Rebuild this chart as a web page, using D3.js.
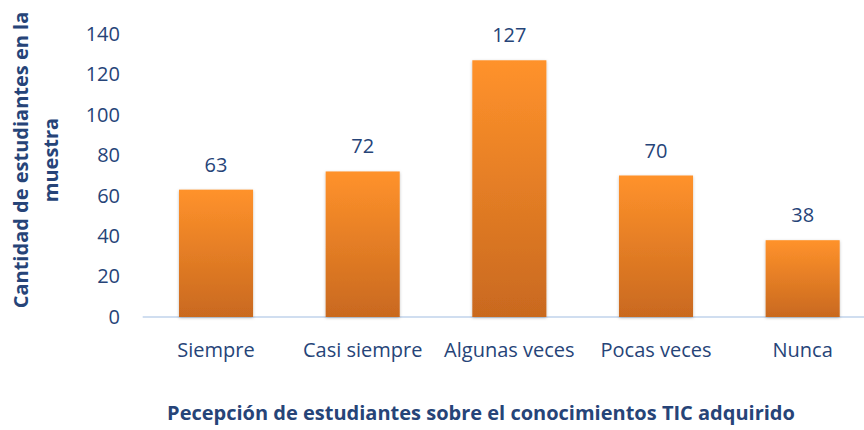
<!DOCTYPE html>
<html>
<head>
<meta charset="utf-8">
<script src="https://cdn.jsdelivr.net/npm/d3@7"></script>
<style>
  body { margin: 0; background: #fff; }
  text { font-family: "Open Sans", sans-serif; fill: #264478; }
</style>
</head>
<body>
<svg id="chart" width="864" height="430"></svg>
<script>
const categories = ["Siempre", "Casi siempre", "Algunas veces", "Pocas veces", "Nunca"];
const values = [63, 72, 127, 70, 38];
const yTicks = [0, 20, 40, 60, 80, 100, 120, 140];
const yTitle = ["Cantidad de estudiantes en la", "muestra"];
const xTitle = "Pecepción de estudiantes sobre el conocimientos TIC adquirido";

const svg = d3.select("#chart");
const x0 = 142.7, x1 = 876, yBase = 317, yTop = 34;

const x = d3.scaleBand().domain(categories).range([x0, x1]).paddingInner(0.495).paddingOuter(0.2475);
const y = d3.scaleLinear().domain([0, 140]).range([yBase, yTop]);

const defs = svg.append("defs");
const grad = defs.append("linearGradient").attr("id", "barGrad")
  .attr("x1", 0).attr("y1", 0).attr("x2", 0).attr("y2", 1);
grad.append("stop").attr("offset", "0%").attr("stop-color", "#ff922b");
grad.append("stop").attr("offset", "100%").attr("stop-color", "#c9691f");

const shadow = defs.append("filter").attr("id", "shadow").attr("x", "-20%").attr("y", "-10%").attr("width", "140%").attr("height", "120%");
shadow.append("feDropShadow").attr("dx", 0).attr("dy", 1).attr("stdDeviation", 1.5).attr("flood-color", "#000").attr("flood-opacity", 0.25);

// baseline
svg.append("line")
  .attr("x1", x0).attr("x2", 864)
  .attr("y1", yBase).attr("y2", yBase)
  .attr("stroke", "#d0def0").attr("stroke-width", 2);

// y axis labels (no line)
const yAxis = d3.axisLeft(y).tickValues(yTicks).tickSize(0).tickPadding(0);
const ya = svg.append("g").attr("transform", "translate(120,0)").call(yAxis);
ya.select(".domain").remove();
ya.selectAll("text").style("font-size", "20px").attr("fill", "#264478").attr("font-family", "'Open Sans', sans-serif");

// bars
svg.append("g").selectAll("rect")
  .data(values)
  .join("rect")
  .attr("x", (d, i) => x(categories[i]))
  .attr("y", d => y(d))
  .attr("width", x.bandwidth())
  .attr("height", d => yBase - y(d))
  .attr("fill", "url(#barGrad)")
  .attr("filter", "url(#shadow)");

// value labels
svg.append("g").selectAll("text")
  .data(values)
  .join("text")
  .attr("x", (d, i) => x(categories[i]) + x.bandwidth() / 2)
  .attr("y", d => y(d) - 18)
  .attr("text-anchor", "middle")
  .style("font-size", "20px")
  .text(d => d);

// x axis labels
const xa = svg.append("g");
xa.selectAll("text").data(categories).join("text")
  .attr("x", d => x(d) + x.bandwidth() / 2)
  .attr("y", 357)
  .attr("text-anchor", "middle")
  .style("font-size", "20px")
  .text(d => d);

// x title
svg.append("text")
  .attr("x", 481).attr("y", 420)
  .attr("text-anchor", "middle")
  .style("font-size", "20px").style("font-weight", "bold")
  .text(xTitle);

// y title
svg.append("g").attr("transform", "translate(0,160) rotate(-90)")
  .selectAll("text").data(yTitle).join("text")
  .attr("x", 0).attr("y", (d, i) => 28 + i * 30)
  .attr("text-anchor", "middle")
  .style("font-size", "20px").style("font-weight", "bold")
  .text(d => d);
</script>
</body>
</html>
